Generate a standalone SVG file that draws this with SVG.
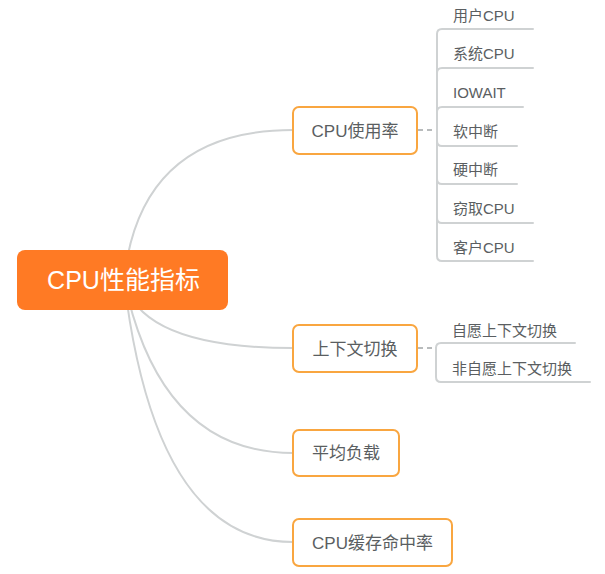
<svg xmlns="http://www.w3.org/2000/svg" width="605" height="574" viewBox="0 0 605 574">
<style>
.ln{fill:none;stroke:#CFD2D3;stroke-width:2;stroke-linecap:round}
.dash{fill:none;stroke:#B8BBBC;stroke-width:2;stroke-dasharray:5 4}
.box{fill:#FFFFFF;stroke:#F9A640;stroke-width:2}
.t{font-family:"Liberation Sans","Noto Sans CJK SC",sans-serif;fill:#5A5E61}
.bt{font-size:17px;text-anchor:middle}
.lt{font-size:15px}
</style>
<rect width="605" height="574" fill="#FFFFFF"/>
<g id="connectors">
<path class="ln" d="M124,280 Q140,130 293,130"/>
<path class="ln" d="M124,280 Q140,348 293,348"/>
<path class="ln" d="M124,280 Q160,453 293,453"/>
<path class="ln" d="M124,280 Q155,542 293,542"/>
<path class="dash" d="M418,130 H437"/>
<path class="ln" d="M437,130 V34 Q437,29 442,29 H533"/>
<path class="ln" d="M437,130 V73 Q437,68 442,68 H533"/>
<path class="ln" d="M437,130 V112 Q437,107 442,107 H523"/>
<path class="ln" d="M437,130 V141 Q437,146 442,146 H517"/>
<path class="ln" d="M437,130 V179 Q437,184 442,184 H517"/>
<path class="ln" d="M437,130 V218 Q437,223 442,223 H533"/>
<path class="ln" d="M437,130 V256 Q437,261 442,261 H533"/>
<path class="dash" d="M418,348 H436"/>
<path class="ln" d="M436,348 Q436,343 441,343 H575"/>
<path class="ln" d="M436,348 V377 Q436,382 441,382 H590"/>
</g>
<g id="root">
<rect x="17" y="250" width="211" height="60" rx="8" fill="#FF7A24"/>
<text class="t" x="123.5" y="289" font-size="25" text-anchor="middle" style="fill:#FFFFFF">CPU性能指标</text>
</g>
<g id="cpu-usage">
<rect class="box" x="293" y="107" width="124" height="47" rx="6"/>
<text class="t bt" x="355" y="137">CPU使用率</text>
</g>
<g id="context-switch">
<rect class="box" x="293" y="325" width="124" height="47" rx="6"/>
<text class="t bt" x="355" y="355">上下文切换</text>
</g>
<g id="load-avg">
<rect class="box" x="293" y="430" width="106" height="46" rx="6"/>
<text class="t bt" x="346" y="459">平均负载</text>
</g>
<g id="cache-hit">
<rect class="box" x="293" y="519" width="159" height="47" rx="6"/>
<text class="t bt" x="372.5" y="549">CPU缓存命中率</text>
</g>
<g id="user-cpu"><text class="t lt" x="453" y="20.5">用户CPU</text></g>
<g id="sys-cpu"><text class="t lt" x="453" y="58.5">系统CPU</text></g>
<g id="iowait"><text class="t lt" x="453" y="97.5">IOWAIT</text></g>
<g id="softirq"><text class="t lt" x="453" y="136.5">软中断</text></g>
<g id="hardirq"><text class="t lt" x="453" y="174.5">硬中断</text></g>
<g id="steal-cpu"><text class="t lt" x="453" y="213.5">窃取CPU</text></g>
<g id="guest-cpu"><text class="t lt" x="453" y="252.5">客户CPU</text></g>
<g id="voluntary"><text class="t lt" x="452" y="335.5">自愿上下文切换</text></g>
<g id="involuntary"><text class="t lt" x="452" y="373.5">非自愿上下文切换</text></g>
</svg>
